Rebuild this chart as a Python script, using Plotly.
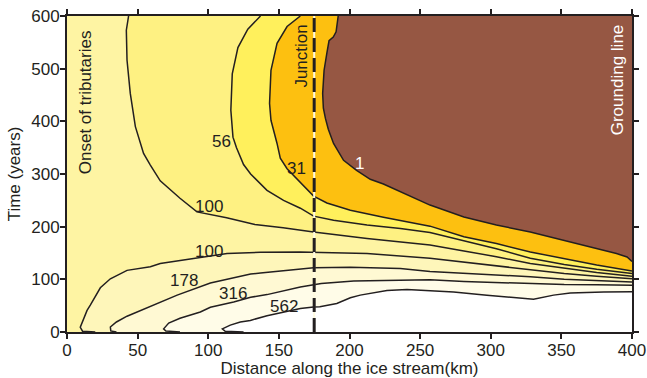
import plotly.graph_objects as go

# ---- contour lines (x: km, y: years) ----
c1_x = [192, 190.5, 188.5, 185.5, 184, 182, 181, 181.5, 183, 185, 188.7, 195.8, 205, 214.7, 224, 240.7, 257, 281, 304, 328, 352, 375, 389, 396.5, 400]
c1_y = [600, 570, 560, 553, 530, 497, 453, 425, 405, 385, 358, 326, 307, 290, 281, 261, 241, 218.5, 203, 190, 174, 158.5, 149, 142.5, 134]

c31_x = [165.2, 155.8, 148.7, 144.4, 143.4, 144.4, 148.7, 151, 155.8, 165.2, 174.6, 184, 200.6, 224, 257, 281, 304, 328, 352, 375, 400]
c31_y = [600, 580, 548, 497, 434, 402, 358, 330, 310, 283, 258, 245, 231, 218, 201, 181, 168, 152, 139.5, 127, 116]

c56_x = [137, 128, 121, 117, 116, 117.5, 120, 125, 130, 141.6, 153.3, 165.2, 174.6, 188.7, 212.4, 236, 257, 281, 304, 328, 352, 375, 400]
c56_y = [600, 575, 540, 490, 421, 370, 350, 318, 300, 269, 250, 235, 220, 212, 203, 196.5, 189, 173, 158, 140, 128, 119, 111]

c100u_x = [43.6, 42, 42.5, 44.8, 48.4, 54.2, 59, 66, 80, 92, 113, 133, 153, 174.6, 212.4, 257, 281, 304, 328, 352, 375, 400]
c100u_y = [600, 573, 516, 453, 390, 339, 317, 287, 254, 228, 217, 204, 198, 190, 177.5, 165, 154, 143, 130, 121, 113, 106]

c100l_x = [20, 11, 9.4, 11.8, 14.2, 16.5, 23.6, 30.7, 35.4, 42.5, 59, 66, 89.6, 113.3, 136.9, 153.3, 165.2, 180, 212.4, 257, 281, 304, 328, 352, 375, 400]
c100l_y = [0, 1.5, 9, 25, 41, 51, 84, 101, 108, 117, 124, 130, 139.5, 149, 151.5, 152, 152, 151, 149, 140, 133, 126, 118, 111, 106, 101]

c178_x = [35, 31, 30.7, 35, 42.5, 61.3, 78, 101.5, 118, 130, 137, 153.3, 165, 174.6, 200.6, 236, 257, 281, 304, 328, 352, 375, 400]
c178_y = [0, 2, 9.5, 19, 30, 51, 70, 93, 103, 110, 112, 116, 120, 122, 123, 120.5, 115, 112, 109, 105, 100, 97, 95]

c316_x = [80, 70, 68.4, 72, 80, 94.4, 101.5, 118, 130, 141.6, 165.2, 173.5, 180, 203, 236, 257, 281, 304, 328, 352, 375, 400]
c316_y = [0, 2, 6, 17, 26, 38, 47, 57, 66, 71, 85.5, 89, 92, 97, 99, 99, 96, 94, 91, 90, 89.5, 89]

c562_x = [125, 112, 110, 115.6, 122.7, 129.8, 141.6, 153.3, 165.2, 174.6, 179, 191, 200.6, 207.6, 226.5, 240.7, 273.7, 297.3, 316, 330.3, 344.5, 356.3, 379.9, 400]
c562_y = [0, 1.5, 6, 13, 19, 22, 31, 38, 44.5, 47.5, 48, 54, 65, 70, 79, 80.5, 76, 70, 65.5, 62, 70, 74, 76, 76.5]

junction_km = 175
x_ticks = [0, 50, 100, 150, 200, 250, 300, 350, 400]
y_ticks = [0, 100, 200, 300, 400, 500, 600]
X_MAX, Y_MAX = 400, 600

INK = "#231F20"
BG = "#FEF4A3"
FONT = "Liberation Sans, Arial, Helvetica, sans-serif"

fig = go.Figure()

# upper (closed toward top-right corner) regions, drawn outermost first
upper = [(c100u_x, c100u_y, "#FEF182"), (c56_x, c56_y, "#FFF05C"),
         (c31_x, c31_y, "#FDC010"), (c1_x, c1_y, "#965743")]
for xs, ys, col in upper:
    fig.add_trace(go.Scatter(x=xs + [X_MAX], y=ys + [Y_MAX], fill="toself", fillcolor=col,
                             mode="none", hoverinfo="skip", showlegend=False))

# lower (closed toward bottom-right corner) regions
lower = [(c100l_x, c100l_y, "#FEF6BA"), (c178_x, c178_y, "#FFF9D3"),
         (c316_x, c316_y, "#FFFCE8"), (c562_x, c562_y, "#FFFFFF")]
for xs, ys, col in lower:
    fig.add_trace(go.Scatter(x=xs + [X_MAX], y=ys + [0], fill="toself", fillcolor=col,
                             mode="none", hoverinfo="skip", showlegend=False))

# contour lines
for xs, ys in [(c1_x, c1_y), (c31_x, c31_y), (c56_x, c56_y), (c100u_x, c100u_y),
               (c100l_x, c100l_y), (c178_x, c178_y), (c316_x, c316_y), (c562_x, c562_y)]:
    fig.add_trace(go.Scatter(x=xs, y=ys, mode="lines", line=dict(color=INK, width=1.5),
                             hoverinfo="skip", showlegend=False))

# junction dashed line
fig.add_trace(go.Scatter(x=[junction_km, junction_km], y=[0, Y_MAX], mode="lines",
                         line=dict(color="#FFFBE0", width=2), hoverinfo="skip", showlegend=False))
fig.add_trace(go.Scatter(x=[junction_km, junction_km], y=[0, Y_MAX], mode="lines",
                         line=dict(color=INK, width=3, dash="14px,6px"), hoverinfo="skip", showlegend=False))

ann = []
def txt(x, y, s, color=INK, angle=0, size=17):
    ann.append(dict(x=x, y=y, xref="x", yref="y", text=s, showarrow=False, textangle=angle,
                    font=dict(family=FONT, size=size, color=color)))

txt(13, 437, "Onset of tributaries", angle=-90)
txt(166.4, 523, "Junction", angle=-90)
txt(389.4, 478, "Grounding line", color="white", angle=-90)
txt(109.2, 362, "56")
txt(162.8, 310, "31")
txt(207, 320, "1", color="white")
txt(100.3, 239, "100")
txt(100.3, 152, "100")
txt(82.5, 98, "178")
txt(117.5, 73, "316")
txt(153.3, 49, "562")

axis_common = dict(showline=True, linecolor=INK, linewidth=2, mirror="ticks", ticks="outside",
                   ticklen=5, tickwidth=1.5, tickcolor=INK, showgrid=False, zeroline=False,
                   automargin=False,
                   tickfont=dict(family=FONT, size=17, color=INK))

fig.update_layout(
    width=647, height=378,
    margin=dict(l=67, r=15, t=16, b=46),
    paper_bgcolor="white", plot_bgcolor=BG,
    annotations=ann,
    xaxis=dict(range=[0, X_MAX], tickvals=x_ticks, **axis_common, ticklabelstandoff=-3,
               title=dict(text="Distance along the ice stream(km)", standoff=0,
                          font=dict(family=FONT, size=17, color=INK))),
    yaxis=dict(range=[0, Y_MAX], tickvals=y_ticks, **axis_common, ticklabelstandoff=-3,
               title=dict(text="Time (years)", standoff=6,
                          font=dict(family=FONT, size=17, color=INK))),
)

# remove the page's default 8px body margin so the figure sits at the window origin
fig.write_html("out.html", config={"displayModeBar": False},
               post_script="document.body.style.margin='0';")
